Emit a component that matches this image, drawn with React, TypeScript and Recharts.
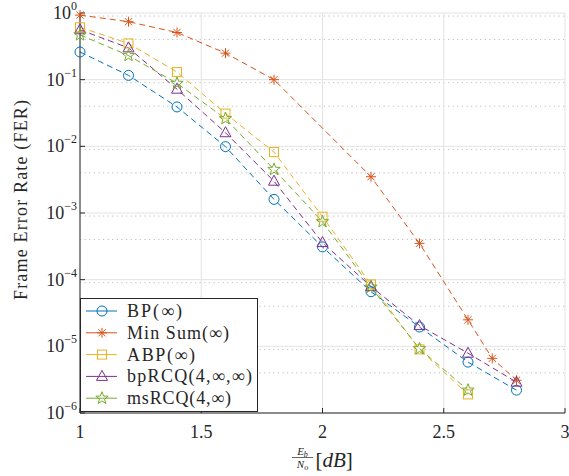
import React from 'react'
import { LineChart, Line, XAxis, YAxis, CartesianGrid, Legend } from 'recharts'

// Eb/No points (dB)
const snr = [1, 1.2, 1.4, 1.6, 1.8, 2.0, 2.2, 2.4, 2.6, 2.7, 2.8]

// frame error rates (null = no point at that SNR)
const ferBP = [0.26, 0.116, 0.039, 0.0099, 0.0016, 3.1e-4, 6.6e-5, 1.95e-5, 5.8e-6, null, 2.2e-6]
const ferMinSum = [0.93, 0.74, 0.51, 0.25, 0.1, null, 3.5e-3, 3.5e-4, 2.5e-5, 6.6e-6, 3.1e-6]
const ferABP = [0.61, 0.35, 0.13, 0.031, 0.0082, 8.8e-4, 8.5e-5, 9.0e-6, 1.9e-6, null, null]
const ferBpRCQ = [0.56, 0.3, 0.072, 0.016, 0.003, 3.6e-4, 7.9e-5, 2.05e-5, 7.9e-6, null, 2.9e-6]
const ferMsRCQ = [0.47, 0.23, 0.088, 0.026, 0.0045, 7.4e-4, 7.7e-5, 9.2e-6, 2.2e-6, null, null]

const xTicks = [1, 1.5, 2, 2.5, 3]
const yTicks = [1e-6, 1e-5, 1e-4, 1e-3, 1e-2, 1e-1, 1]
const yMinorTicks: number[] = []
for (let e = -6; e < 0; e++) {
  for (let m = 2; m <= 9; m++) yMinorTicks.push(m * Math.pow(10, e))
}

const FONT = '"Liberation Serif", "DejaVu Serif", serif'
const AXIS = '#262626'

type Shape = 'circle' | 'asterisk' | 'square' | 'triangle' | 'star'

const series: { key: string; name: string; color: string; shape: Shape; values: (number | null)[]; textW: number }[] = [
  { key: 'bp', name: 'BP(∞)', color: '#0072BD', shape: 'circle', values: ferBP, textW: 55 },
  { key: 'ms', name: 'Min Sum(∞)', color: '#D95319', shape: 'asterisk', values: ferMinSum, textW: 102 },
  { key: 'abp', name: 'ABP(∞)', color: '#EDB120', shape: 'square', values: ferABP, textW: 68 },
  { key: 'bprcq', name: 'bpRCQ(4,∞,∞)', color: '#7E2F8E', shape: 'triangle', values: ferBpRCQ, textW: 125 },
  { key: 'msrcq', name: 'msRCQ(4,∞)', color: '#77AC30', shape: 'star', values: ferMsRCQ, textW: 104 },
]

const data = snr.map((x, i) => {
  const row: Record<string, number | null> = { x }
  series.forEach((s) => { row[s.key] = s.values[i] })
  return row
})

function Marker({ shape, cx, cy, color }: { shape: Shape; cx: number; cy: number; color: string }) {
  const common = { fill: 'none', stroke: color, strokeWidth: 1 }
  if (shape === 'circle') return <circle cx={cx} cy={cy} r={5} {...common} />
  if (shape === 'square') return <rect x={cx - 4.5} y={cy - 4.5} width={9} height={9} {...common} />
  if (shape === 'triangle') {
    return <polygon points={`${cx},${cy - 6} ${cx - 5.5},${cy + 4} ${cx + 5.5},${cy + 4}`} {...common} />
  }
  if (shape === 'star') {
    const pts: string[] = []
    for (let k = 0; k < 10; k++) {
      const r = k % 2 === 0 ? 6.5 : 2.7
      const a = -Math.PI / 2 + (k * Math.PI) / 5
      pts.push(`${cx + r * Math.cos(a)},${cy + r * Math.sin(a)}`)
    }
    return <polygon points={pts.join(' ')} {...common} />
  }
  // asterisk
  const r = 5
  const d = r * 0.72
  return (
    <g {...common}>
      <line x1={cx - r} y1={cy} x2={cx + r} y2={cy} />
      <line x1={cx} y1={cy - r} x2={cx} y2={cy + r} />
      <line x1={cx - d} y1={cy - d} x2={cx + d} y2={cy + d} />
      <line x1={cx - d} y1={cy + d} x2={cx + d} y2={cy - d} />
    </g>
  )
}

const XTick = ({ x, y, payload }: any) => (
  <text x={x} y={y + 25} textAnchor="middle" fontSize={18} fontFamily={FONT} fill={AXIS}>
    {payload.value}
  </text>
)

const YTick = ({ x, y, payload }: any) => {
  const exp = Math.round(Math.log10(payload.value))
  return (
    <text x={x} y={y + 6} textAnchor="end" fontSize={18} fontFamily={FONT} fill={AXIS}>
      10
      <tspan dy={-9} fontSize={12}>{exp === 0 ? '0' : `−${-exp}`}</tspan>
    </text>
  )
}

const YLabel = ({ viewBox }: any) => {
  const cx = viewBox.x + 27
  const cy = viewBox.y + viewBox.height / 2 - 13
  return (
    <text
      x={cx}
      y={cy}
      transform={`rotate(-90 ${cx} ${cy})`}
      textAnchor="middle"
      fontSize={18}
      fontFamily={FONT}
      fill={AXIS}
      textLength={200}
      lengthAdjust="spacing"
    >
      Frame Error Rate (FER)
    </text>
  )
}

const XLabel = ({ viewBox }: any) => {
  const cx = viewBox.x + viewBox.width / 2
  const fx = cx - 20
  const top = viewBox.y
  return (
    <g fontFamily={FONT} fill={AXIS}>
      <text x={fx} y={top + 42} textAnchor="middle" fontSize={11} fontStyle="italic">
        E<tspan dy={2} fontSize={8}>b</tspan>
      </text>
      <line x1={fx - 10.5} x2={fx + 10.5} y1={top + 44.5} y2={top + 44.5} stroke={AXIS} strokeWidth={0.7} />
      <text x={fx} y={top + 55} textAnchor="middle" fontSize={11} fontStyle="italic">
        N<tspan dy={2} fontSize={8}>o</tspan>
      </text>
      <text x={cx - 7} y={top + 54} fontSize={21}>
        [<tspan fontStyle="italic">dB</tspan>]
      </text>
    </g>
  )
}

const renderLegend = () => (
  <svg width={178} height={114} style={{ display: 'block' }}>
    <rect x={0.5} y={0.5} width={177} height={113} fill="#fff" stroke={AXIS} strokeWidth={1} />
    {series.map((s, i) => {
      const y = 13 + i * 21.8
      return (
        <g key={s.key}>
          <line x1={6} x2={37} y1={y} y2={y} stroke={s.color} strokeWidth={1} />
          <Marker shape={s.shape} cx={22} cy={y} color={s.color} />
          <text x={47} y={y + 6} fontSize={18} fontFamily={FONT} fill={AXIS} textLength={s.textW} lengthAdjust="spacing">
            {s.name}
          </text>
        </g>
      )
    })}
  </svg>
)

export default function App() {
  return (
    <div style={{ position: 'relative', width: 569, height: 476, background: '#fff' }}>
      <style>{'body{margin:0}'}</style>
      <LineChart width={569} height={476} data={data} margin={{ top: 13, right: 4, left: 0, bottom: 0 }}>
        <CartesianGrid vertical={false} horizontalValues={yMinorTicks} stroke="#bdbdbd" strokeDasharray="1.2 3.4" />
        <CartesianGrid stroke="#e3e3e3" strokeWidth={1} />
        <XAxis
          dataKey="x"
          type="number"
          domain={[1, 3]}
          ticks={xTicks}
          height={63}
          stroke={AXIS}
          tickSize={-5}
          tickMargin={5}
          tick={<XTick />}
          label={{ content: (p: any) => <XLabel {...p} /> }}
        />
        <XAxis xAxisId="top" orientation="top" mirror type="number" domain={[1, 3]} ticks={xTicks} height={0} stroke={AXIS} tickSize={5} tick={false} />
        <YAxis
          type="number"
          scale="log"
          domain={[1e-6, 1]}
          ticks={yTicks}
          width={80}
          stroke={AXIS}
          tickSize={-5}
          tickMargin={8}
          tick={<YTick />}
          label={{ content: (p: any) => <YLabel {...p} /> }}
        />
        <YAxis yAxisId="leftMinor" mirror type="number" scale="log" domain={[1e-6, 1]} ticks={yMinorTicks} width={0} stroke={AXIS} axisLine={false} tickSize={3} tick={false} />
        <YAxis yAxisId="right" orientation="right" mirror type="number" scale="log" domain={[1e-6, 1]} ticks={yTicks} width={0} stroke={AXIS} tickSize={5} tick={false} />
        <YAxis yAxisId="rightMinor" orientation="right" mirror type="number" scale="log" domain={[1e-6, 1]} ticks={yMinorTicks} width={0} stroke={AXIS} axisLine={false} tickSize={3} tick={false} />
        {series.map((s) => (
          <Line
            key={s.key}
            dataKey={s.key}
            name={s.name}
            stroke={s.color}
            strokeWidth={1}
            strokeDasharray="6 4"
            connectNulls
            isAnimationActive={false}
            activeDot={false}
            dot={(p: any) =>
              p.cy == null || p.value == null ? (
                <g key={`${s.key}-${p.index}`} />
              ) : (
                <Marker key={`${s.key}-${p.index}`} shape={s.shape} cx={p.cx} cy={p.cy} color={s.color} />
              )
            }
          />
        ))}
        <Legend layout="vertical" align="center" verticalAlign="middle" content={renderLegend} wrapperStyle={{ left: 80, top: 298, width: 178, height: 114 }} />
      </LineChart>
    </div>
  )
}
